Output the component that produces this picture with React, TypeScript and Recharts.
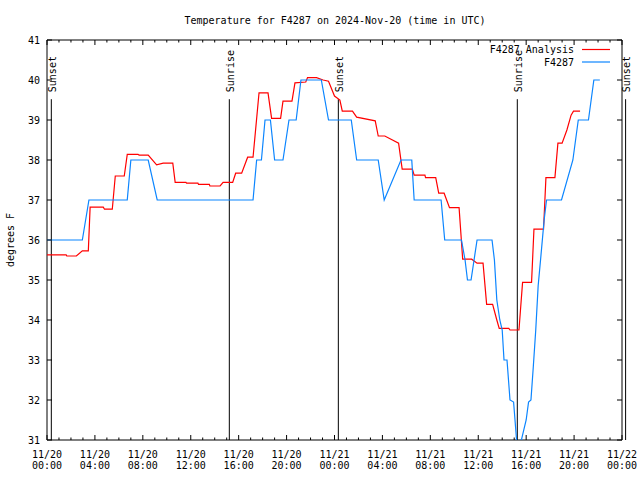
import React from "react";
import { LineChart, Line, XAxis, YAxis, ReferenceLine, ReferenceArea } from "recharts";

// hours since 2024-11-20 00:00 UTC
const ANALYSIS_HOURS = [
  0, 1.6, 1.65, 2.45, 2.95, 3.45, 3.6, 4.7, 4.8, 5.45, 5.7, 6.45, 6.7, 7.6, 7.7, 8.45,
  9.15, 9.7, 10.5, 10.7, 11.6, 11.65, 12.6, 12.65, 13.55, 13.6, 14.45, 14.7, 15.5, 15.75,
  16.25, 16.75, 17.2, 17.7, 18.45, 18.75, 19.5, 19.7, 20.45, 20.7, 21.6, 21.75, 22.5,
  23.05, 23.5, 24.0, 24.45, 24.65, 25.5, 25.85, 27.4, 27.65, 28.2, 29.35, 29.65, 30.5,
  30.65, 31.55, 31.6, 32.45, 32.7, 33.15, 33.6, 34.4, 34.7, 35.45, 35.9, 36.4, 36.7,
  37.2, 37.55, 37.75, 38.55, 38.65, 39.4, 39.55, 39.7, 40.45, 40.65, 41.45, 41.65,
  42.4, 42.65, 43.0, 43.4, 43.75, 43.95, 44.5,
];
const ANALYSIS_TEMPS = [
  35.63, 35.63, 35.6, 35.6, 35.73, 35.73, 36.82, 36.82, 36.77, 36.77, 37.6, 37.6, 38.14,
  38.14, 38.12, 38.12, 37.88, 37.92, 37.92, 37.44, 37.44, 37.42, 37.42, 37.39, 37.39,
  37.35, 37.35, 37.44, 37.44, 37.67, 37.67, 38.07, 38.07, 39.68, 39.68, 39.04, 39.04,
  39.47, 39.47, 39.93, 39.95, 40.06, 40.06, 40.0, 39.97, 39.6, 39.5, 39.22, 39.22, 39.07,
  38.98, 38.6, 38.6, 38.42, 37.77, 37.77, 37.62, 37.62, 37.56, 37.56, 37.17, 37.17,
  36.81, 36.81, 35.52, 35.52, 35.42, 35.42, 34.39, 34.39, 34.0, 33.79, 33.79, 33.75,
  33.75, 34.35, 34.94, 34.94, 36.27, 36.27, 37.56, 37.56, 38.42, 38.42, 38.75, 39.12,
  39.22, 39.22,
];

const OBS_HOURS = [
  0, 2.95, 3.5, 6.7, 7.0, 8.45, 9.2, 17.2, 17.5, 17.9, 18.2, 18.65, 19.0, 19.7, 20.2,
  20.8, 21.2, 22.9, 23.5, 25.4, 25.85, 27.65, 28.15, 29.55, 30.45, 30.65, 32.9, 33.2,
  34.6, 34.9, 35.1, 35.4, 35.9, 37.15, 37.35, 37.55, 37.8, 38.0, 38.15, 38.4, 38.65,
  38.95, 39.2, 39.4, 39.6, 40.0, 40.2, 40.4, 40.6, 40.8, 41.0, 41.2, 41.5, 41.7, 42.95,
  43.9, 44.35, 45.2, 45.65, 46.15,
];
const OBS_TEMPS = [
  36, 36, 37, 37, 38, 38, 37, 37, 38, 38, 39, 39, 38, 38, 39, 39, 40, 40, 39, 39, 38, 38,
  37, 38, 38, 37, 37, 36, 36, 35.5, 35, 35, 36, 36, 35.5, 34.5, 34.0, 33.75, 33.0, 33.0,
  32.0, 31.95, 31.0, 30.5, 31.0, 31.5, 31.95, 32.0, 32.85, 33.75, 34.85, 35.5, 36.5, 37,
  37, 38, 39, 39, 40, 40,
];

const SUN_HOURS = [0.36, 15.22, 24.32, 39.26, 48.3];
const SUN_NAMES = ["Sunset", "Sunrise", "Sunset", "Sunrise", "Sunset"];

const HOUR_TICKS = [
  0, 1, 2, 3, 4, 5, 6, 7, 8, 9, 10, 11, 12, 13, 14, 15, 16, 17, 18, 19, 20, 21, 22, 23, 24,
  25, 26, 27, 28, 29, 30, 31, 32, 33, 34, 35, 36, 37, 38, 39, 40, 41, 42, 43, 44, 45, 46,
  47, 48,
];
const MAJOR_HOURS = [0, 4, 8, 12, 16, 20, 24, 28, 32, 36, 40, 44, 48];
const DATE_LABELS = ["11/20", "11/20", "11/20", "11/20", "11/20", "11/20", "11/21", "11/21", "11/21", "11/21", "11/21", "11/21", "11/22"];
const TIME_LABELS = ["00:00", "04:00", "08:00", "12:00", "16:00", "20:00", "00:00", "04:00", "08:00", "12:00", "16:00", "20:00", "00:00"];
const TEMP_TICKS = [31, 32, 33, 34, 35, 36, 37, 38, 39, 40, 41];

const FONT = "'DejaVu Sans Mono', 'Liberation Mono', monospace";
const RED = "#ff0000";
const BLUE = "#0b85ff";

const analysis = ANALYSIS_HOURS.map((t, i) => ({ t, v: ANALYSIS_TEMPS[i] }));
const observed = OBS_HOURS.map((t, i) => ({ t, v: OBS_TEMPS[i] }));

function BottomTick(props: any) {
  const { x, y, payload } = props;
  const i = MAJOR_HOURS.indexOf(payload.value);
  return (
    <g>
      <line x1={x} y1={y} x2={x} y2={y - (i >= 0 ? 5 : 2.5)} stroke="#000" />
      {i >= 0 && (
        <text x={x} y={y} textAnchor="middle" fontFamily={FONT} fontSize={10} fill="#000">
          <tspan x={x} dy={17.5}>{DATE_LABELS[i]}</tspan>
          <tspan x={x} dy={11}>{TIME_LABELS[i]}</tspan>
        </text>
      )}
    </g>
  );
}

function TopTick(props: any) {
  const { x, y, payload } = props;
  const major = MAJOR_HOURS.indexOf(payload.value) >= 0;
  return <line x1={x} y1={y} x2={x} y2={y + (major ? 5 : 2.5)} stroke="#000" />;
}

function LeftTick(props: any) {
  const { x, y, payload } = props;
  return (
    <g>
      <line x1={x} y1={y} x2={x + 5} y2={y} stroke="#000" />
      <text x={x - 7} y={y} dy={3.5} textAnchor="end" fontFamily={FONT} fontSize={10} fill="#000">
        {payload.value}
      </text>
    </g>
  );
}

function RightTick(props: any) {
  const { x, y } = props;
  return <line x1={x} y1={y} x2={x - 5} y2={y} stroke="#000" />;
}

function SunLabel(props: any) {
  const { viewBox, text } = props;
  if (!viewBox) return null;
  const x = viewBox.x + 4.5;
  const y = viewBox.y - 7;
  return (
    <text
      x={0}
      y={0}
      transform={`translate(${x}, ${y}) rotate(-90)`}
      textAnchor="start"
      fontFamily={FONT}
      fontSize={10}
      fill="#000"
    >
      {text}
    </text>
  );
}

export default function App() {
  return (
    <div style={{ position: "absolute", left: 0, top: 0, width: 640, height: 480, background: "#fff" }}>
      <LineChart width={640} height={480} margin={{ top: 0, right: 0, bottom: 0, left: 0 }}>
        <XAxis
          xAxisId={0}
          dataKey="t"
          type="number"
          domain={[0, 48]}
          allowDataOverflow
          ticks={HOUR_TICKS}
          interval={0}
          height={40}
          axisLine={false}
          tickLine={false}
          tickSize={0}
          tickMargin={0}
          tick={<BottomTick />}
        />
        <XAxis
          xAxisId="top"
          orientation="top"
          dataKey="t"
          type="number"
          domain={[0, 48]}
          allowDataOverflow
          ticks={HOUR_TICKS}
          interval={0}
          height={40}
          axisLine={false}
          tickLine={false}
          tickSize={0}
          tickMargin={0}
          tick={<TopTick />}
        />
        <YAxis
          yAxisId={0}
          type="number"
          domain={[31, 41]}
          allowDataOverflow
          ticks={TEMP_TICKS}
          interval={0}
          width={47}
          axisLine={false}
          tickLine={false}
          tickSize={0}
          tickMargin={0}
          tick={<LeftTick />}
        />
        <YAxis
          yAxisId="right"
          orientation="right"
          type="number"
          domain={[31, 41]}
          allowDataOverflow
          ticks={TEMP_TICKS}
          interval={0}
          width={18}
          axisLine={false}
          tickLine={false}
          tickSize={0}
          tickMargin={0}
          tick={<RightTick />}
        />
        <ReferenceArea x1={0} x2={48} y1={31} y2={41} fill="none" stroke="#000" strokeWidth={1} ifOverflow="visible" />
        {SUN_HOURS.map((h, i) => (
          <ReferenceLine
            key={i}
            segment={[{ x: h, y: 39.52 }, { x: h, y: 31 }]}
            stroke="#000"
            strokeWidth={1}
            ifOverflow="visible"
            label={<SunLabel text={SUN_NAMES[i]} />}
          />
        ))}
        <Line
          data={analysis}
          dataKey="v"
          type="linear"
          stroke={RED}
          strokeWidth={1.2}
          dot={false}
          activeDot={false}
          isAnimationActive={false}
        />
        <Line
          data={observed}
          dataKey="v"
          type="linear"
          stroke={BLUE}
          strokeWidth={1.2}
          dot={false}
          activeDot={false}
          isAnimationActive={false}
        />
      </LineChart>
      <svg
        width={640}
        height={480}
        style={{ position: "absolute", left: 0, top: 0, pointerEvents: "none" }}
      >
        <text x={335} y={24} textAnchor="middle" fontFamily={FONT} fontSize={10} fill="#000">
          Temperature for F4287 on 2024-Nov-20 (time in UTC)
        </text>
        <text
          x={0}
          y={0}
          transform="translate(14, 240) rotate(-90)"
          textAnchor="middle"
          fontFamily={FONT}
          fontSize={10}
          fill="#000"
        >
          degrees F
        </text>
        <text x={574} y={53} textAnchor="end" fontFamily={FONT} fontSize={10} fill="#000">
          F4287 Analysis
        </text>
        <line x1={582} y1={49.5} x2={610} y2={49.5} stroke={RED} strokeWidth={1.2} />
        <text x={574} y={66} textAnchor="end" fontFamily={FONT} fontSize={10} fill="#000">
          F4287
        </text>
        <line x1={582} y1={62} x2={610} y2={62} stroke={BLUE} strokeWidth={1.2} />
      </svg>
    </div>
  );
}
